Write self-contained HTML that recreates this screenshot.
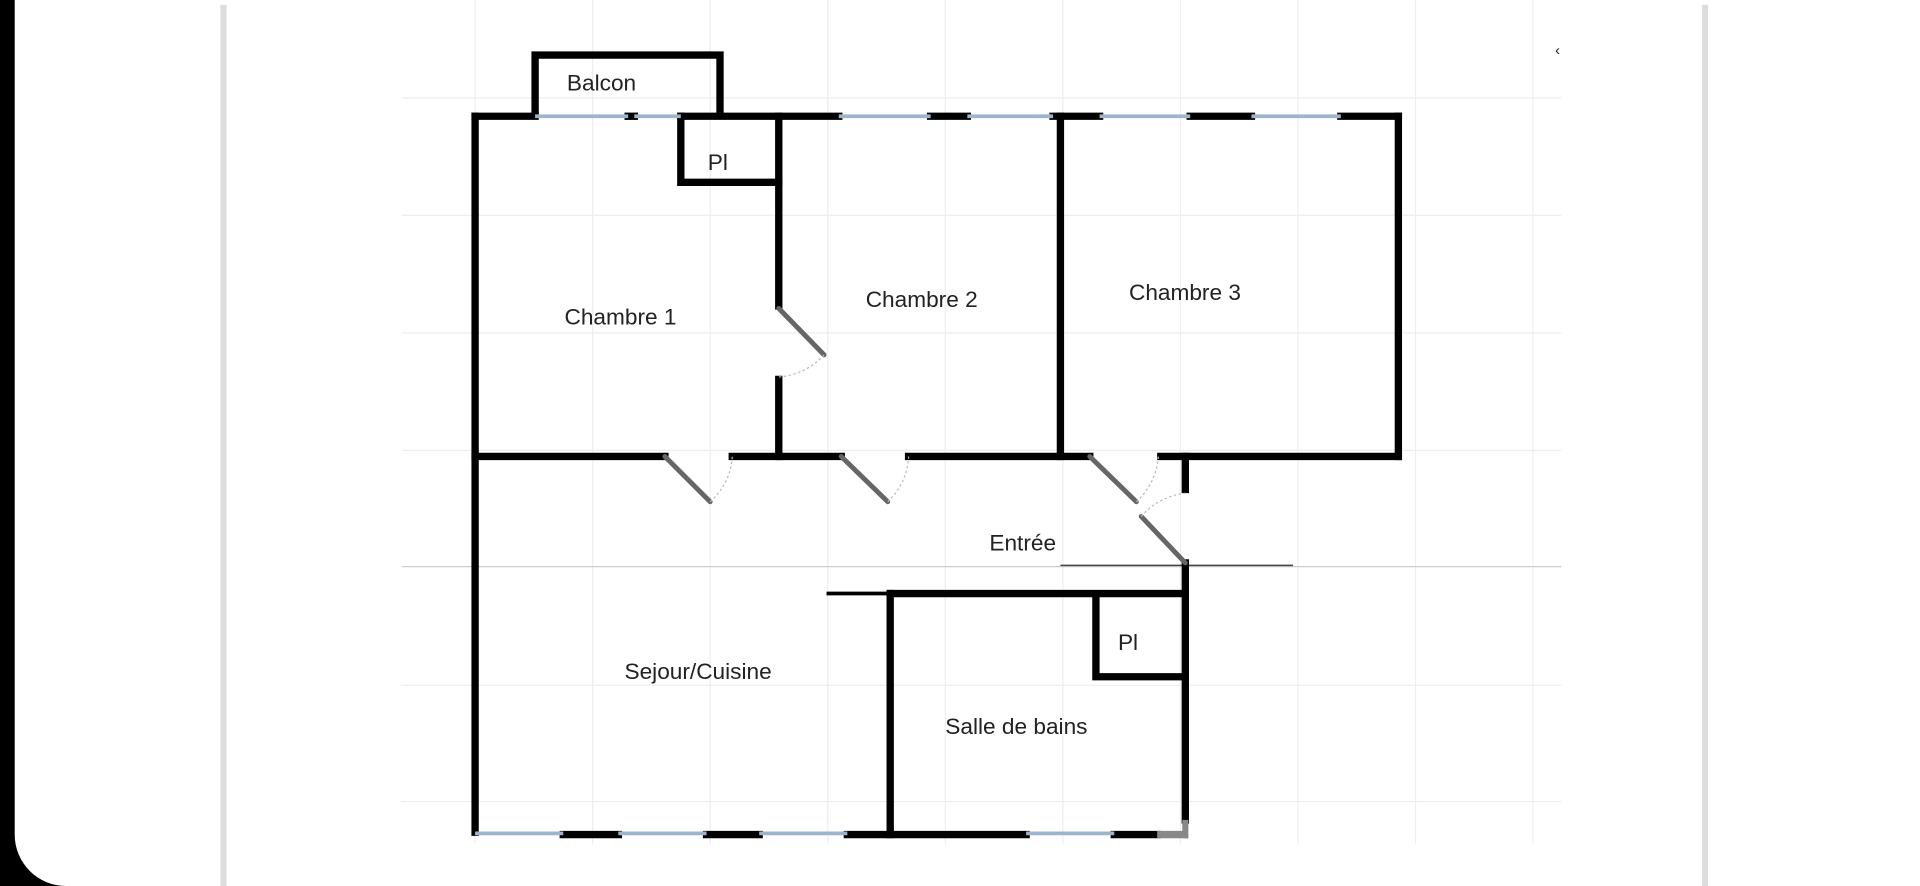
<!DOCTYPE html>
<html><head><meta charset="utf-8"><style>
html,body{margin:0;padding:0;width:1920px;height:886px;overflow:hidden;background:#000}
svg{display:block}
text{font-family:"Liberation Sans",sans-serif;font-size:18.5px;fill:#222}
</style></head><body>
<svg width="1920" height="886" viewBox="0 0 1568 724" preserveAspectRatio="none">
<rect x="0" y="0" width="1568" height="724" fill="#000"/>
<rect x="12" y="-60" width="1620" height="784" rx="42" fill="#fff"/>
<rect x="180" y="4" width="5" height="720" fill="#ddd"/>
<rect x="1390" y="4" width="5" height="720" fill="#ddd"/>
<g stroke="#eee" stroke-width="1">
<line x1="388" y1="0" x2="388" y2="690"/><line x1="484" y1="0" x2="484" y2="690"/>
<line x1="580" y1="0" x2="580" y2="690"/><line x1="676" y1="0" x2="676" y2="690"/>
<line x1="772" y1="0" x2="772" y2="690"/><line x1="868" y1="0" x2="868" y2="690"/>
<line x1="964" y1="0" x2="964" y2="690"/><line x1="1060" y1="0" x2="1060" y2="690"/>
<line x1="1156" y1="0" x2="1156" y2="690"/><line x1="1252" y1="0" x2="1252" y2="690"/>
<line x1="328" y1="80" x2="1275" y2="80"/><line x1="328" y1="176" x2="1275" y2="176"/>
<line x1="328" y1="272" x2="1275" y2="272"/><line x1="328" y1="368" x2="1275" y2="368"/>
<line x1="328" y1="560" x2="1275" y2="560"/><line x1="328" y1="655" x2="1275" y2="655"/>
</g>
<line x1="328" y1="463" x2="1275" y2="463" stroke="#ccc" stroke-width="1"/>
<line x1="866" y1="462" x2="1056" y2="462" stroke="#444" stroke-width="1.2"/>
<text x="1270" y="45" style="font-size:12px">‹</text>
<g stroke="#000" stroke-width="6" fill="none" stroke-linecap="square">
<polyline points="437,93 437,45 588,45 588,93"/>
<line x1="388" y1="95" x2="437" y2="95"/><line x1="513" y1="95" x2="518" y2="95"/>
<line x1="556" y1="95" x2="685" y2="95"/><line x1="760" y1="95" x2="790" y2="95"/>
<line x1="860" y1="95" x2="898" y2="95"/><line x1="972" y1="95" x2="1022" y2="95"/>
<line x1="1095" y1="95" x2="1142" y2="95"/>
<line x1="388" y1="95" x2="388" y2="680"/>
<line x1="1142" y1="95" x2="1142" y2="373"/>
<polyline points="556,95 556,149 636,149"/>
<line x1="636" y1="95" x2="636" y2="250"/><line x1="636" y1="310" x2="636" y2="373"/>
<line x1="866" y1="95" x2="866" y2="373"/>
<line x1="388" y1="373" x2="543" y2="373"/><line x1="598" y1="373" x2="687" y2="373"/>
<line x1="742" y1="373" x2="890" y2="373"/><line x1="948" y1="373" x2="1142" y2="373"/>
<line x1="968" y1="373" x2="968" y2="400"/><line x1="968" y1="460" x2="968" y2="670"/>
<line x1="727" y1="485" x2="968" y2="485"/><line x1="727" y1="485" x2="727" y2="682"/>
<polyline points="895,487 895,553 968,553"/>
<line x1="460" y1="682" x2="505" y2="682"/><line x1="577" y1="682" x2="620" y2="682"/>
<line x1="692" y1="682" x2="838" y2="682"/><line x1="910" y1="682" x2="945" y2="682"/>
</g>
<line x1="675" y1="485" x2="727" y2="485" stroke="#000" stroke-width="3"/>
<line x1="945" y1="682" x2="970" y2="682" stroke="#888" stroke-width="6"/>
<line x1="968" y1="670" x2="968" y2="685" stroke="#888" stroke-width="5"/>
<g stroke="#9db4cc" stroke-width="3">
<line x1="437" y1="95" x2="513" y2="95"/><line x1="518" y1="95" x2="556" y2="95"/>
<line x1="685" y1="95" x2="760" y2="95"/><line x1="790" y1="95" x2="860" y2="95"/>
<line x1="898" y1="95" x2="972" y2="95"/><line x1="1022" y1="95" x2="1095" y2="95"/>
<line x1="388" y1="681" x2="460" y2="681"/><line x1="505" y1="681" x2="577" y2="681"/>
<line x1="620" y1="681" x2="692" y2="681"/><line x1="838" y1="681" x2="910" y2="681"/>
</g>
<g stroke="#666" stroke-width="4" stroke-linecap="round">
<line x1="543" y1="373" x2="580" y2="410"/><line x1="687" y1="373" x2="725" y2="410"/>
<line x1="890" y1="373" x2="928" y2="410"/><line x1="968" y1="460" x2="932" y2="422"/>
<line x1="636" y1="252" x2="673" y2="290"/>
</g>
<g stroke="#bbb" stroke-width="1" fill="none" stroke-dasharray="2,2">
<path d="M580,410 A53,53 0 0 0 598,373"/><path d="M725,410 A53,53 0 0 0 742,373"/>
<path d="M928,410 A55,55 0 0 0 946,373"/><path d="M932,422 A55,55 0 0 1 968,403"/>
<path d="M673,290 A55,55 0 0 1 636,308"/>
</g>
<text x="463" y="74">Balcon</text>
<text x="578" y="139">Pl</text>
<text x="461" y="265">Chambre 1</text>
<text x="707" y="251">Chambre 2</text>
<text x="922" y="245">Chambre 3</text>
<text x="808" y="450">Entrée</text>
<text x="510" y="555">Sejour/Cuisine</text>
<text x="913" y="531">Pl</text>
<text x="772" y="600">Salle de bains</text>
</svg>
</body></html>
